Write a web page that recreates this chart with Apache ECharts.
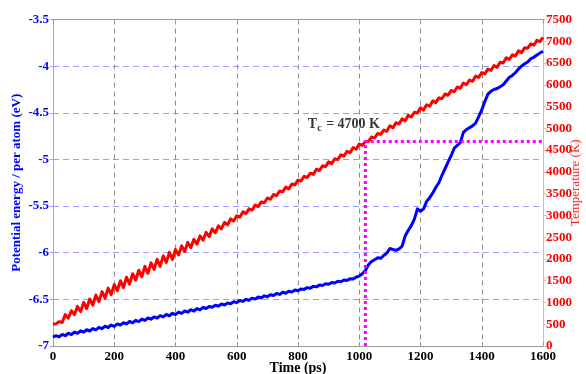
<!DOCTYPE html>
<html>
<head>
<meta charset="utf-8">
<script src="https://cdn.jsdelivr.net/npm/echarts@6/dist/echarts.min.js"></script>
<style>
  html, body { margin: 0; padding: 0; background: #ffffff; }
  #chart { width: 586px; height: 374px; }
</style>
</head>
<body>
<div id="chart"></div>
<script>
// Simulation time (ps)
var times = [
  0, 10, 20, 30, 40, 50, 60, 70, 80, 90,
  100, 110, 120, 130, 140, 150, 160, 170, 180, 190,
  200, 210, 220, 230, 240, 250, 260, 270, 280, 290,
  300, 310, 320, 330, 340, 350, 360, 370, 380, 390,
  400, 410, 420, 430, 440, 450, 460, 470, 480, 490,
  500, 510, 520, 530, 540, 550, 560, 570, 580, 590,
  600, 610, 620, 630, 640, 650, 660, 670, 680, 690,
  700, 710, 720, 730, 740, 750, 760, 770, 780, 790,
  800, 810, 820, 830, 840, 850, 860, 870, 880, 890,
  900, 910, 920, 930, 940, 950, 960, 970, 980, 990,
  1000, 1010, 1020, 1030, 1040, 1050, 1060, 1070, 1080, 1090,
  1100, 1110, 1120, 1130, 1140, 1150, 1160, 1170, 1180, 1190,
  1200, 1210, 1220, 1230, 1240, 1250, 1260, 1270, 1280, 1290,
  1300, 1310, 1320, 1330, 1340, 1350, 1360, 1370, 1380, 1390,
  1400, 1410, 1420, 1430, 1440, 1450, 1460, 1470, 1480, 1490,
  1500, 1510, 1520, 1530, 1540, 1550, 1560, 1570, 1580, 1590,
  1600
];

// Potential energy per atom (eV)
var energy = [
  -6.905, -6.889, -6.902, -6.876, -6.890, -6.863, -6.877, -6.851, -6.865, -6.838,
  -6.852, -6.826, -6.839, -6.813, -6.827, -6.800, -6.814, -6.788, -6.802, -6.775,
  -6.789, -6.763, -6.776, -6.750, -6.764, -6.737, -6.751, -6.725, -6.739, -6.712,
  -6.726, -6.700, -6.713, -6.687, -6.701, -6.675, -6.688, -6.662, -6.676, -6.649,
  -6.663, -6.637, -6.650, -6.624, -6.638, -6.611, -6.625, -6.599, -6.613, -6.586,
  -6.598, -6.576, -6.585, -6.563, -6.573, -6.550, -6.560, -6.538, -6.548, -6.525,
  -6.535, -6.513, -6.522, -6.500, -6.510, -6.487, -6.497, -6.475, -6.485, -6.462,
  -6.472, -6.450, -6.459, -6.437, -6.447, -6.424, -6.434, -6.412, -6.422, -6.399,
  -6.407, -6.388, -6.393, -6.374, -6.380, -6.361, -6.366, -6.347, -6.352, -6.333,
  -6.338, -6.320, -6.325, -6.306, -6.311, -6.292, -6.297, -6.279, -6.282, -6.262,
  -6.250, -6.225, -6.190, -6.130, -6.095, -6.075, -6.055, -6.060, -6.030, -6.005,
  -5.955, -5.965, -5.975, -5.960, -5.930, -5.820, -5.760, -5.710, -5.640, -5.530,
  -5.555, -5.530, -5.450, -5.410, -5.360, -5.300, -5.250, -5.170, -5.100, -5.030,
  -4.960, -4.880, -4.850, -4.820, -4.710, -4.680, -4.660, -4.640, -4.610, -4.540,
  -4.470, -4.380, -4.300, -4.270, -4.250, -4.240, -4.220, -4.200, -4.160, -4.120,
  -4.100, -4.070, -4.030, -4.000, -3.975, -3.955, -3.920, -3.905, -3.880, -3.860,
  -3.840
];

// Temperature (K)
var temperature = [
  500, 510, 560, 540, 720, 640, 810, 720, 910, 790,
  1000, 860, 1080, 940, 1170, 1020, 1250, 1100, 1330, 1180,
  1410, 1270, 1500, 1340, 1580, 1420, 1660, 1510, 1740, 1590,
  1830, 1670, 1910, 1760, 1990, 1830, 2070, 1920, 2150, 1990,
  2220, 2090, 2300, 2170, 2380, 2260, 2450, 2340, 2530, 2430,
  2610, 2510, 2690, 2600, 2760, 2690, 2840, 2780, 2920, 2870,
  2990, 2960, 3080, 3040, 3150, 3120, 3240, 3200, 3310, 3290,
  3400, 3370, 3480, 3450, 3560, 3540, 3650, 3610, 3720, 3700,
  3810, 3790, 3900, 3870, 3970, 3940, 4060, 4030, 4140, 4120,
  4230, 4190, 4300, 4280, 4390, 4360, 4470, 4440, 4560, 4520,
  4640, 4610, 4700, 4700, 4800, 4780, 4880, 4860, 4960, 4930,
  5060, 5010, 5130, 5100, 5220, 5170, 5300, 5260, 5370, 5350,
  5470, 5420, 5540, 5510, 5630, 5590, 5700, 5680, 5790, 5760,
  5870, 5840, 5950, 5920, 6040, 6000, 6110, 6080, 6200, 6170,
  6280, 6250, 6360, 6330, 6440, 6400, 6520, 6500, 6620, 6580,
  6690, 6660, 6780, 6740, 6850, 6840, 6940, 6910, 7020, 6990,
  7090
];

// Critical temperature marker
var tcTime = 1020;
var tcTemp = 4700;
var tcLabelAt = [950, 5080];

// Axis tick settings
var timeTicks = { min: 0, max: 1600, step: 200 };
var energyTicks = { min: -7, max: -3.5, step: 0.5 };
var tempTicks = { min: 0, max: 7500, step: 500 };

var serif = '"Liberation Serif", "DejaVu Serif", serif';

function pairs(xs, ys) {
  var out = [];
  for (var i = 0; i < xs.length; i++) out.push([xs[i], ys[i]]);
  return out;
}

function plain(v) { return String(v); }

var chart = echarts.init(document.getElementById('chart'), null, { renderer: 'canvas' });

var option = {
  animation: false,
  backgroundColor: '#ffffff',
  grid: { left: 53, right: 43, top: 19.5, bottom: 28, containLabel: false, outerBoundsMode: 'none' },
  xAxis: [
    {
      type: 'value',
      position: 'bottom',
      min: timeTicks.min, max: timeTicks.max, interval: timeTicks.step,
      name: 'Time (ps)',
      nameLocation: 'middle',
      nameGap: 15,
      nameMoveOverlap: false,
      nameTextStyle: { fontFamily: serif, fontWeight: 'bold', fontSize: 14, color: '#000000' },
      axisLine: { show: true, onZero: false, lineStyle: { color: '#999999', width: 1 } },
      axisTick: { show: true, inside: true, length: 4, lineStyle: { color: '#999999' } },
      axisLabel: { margin: 4, fontFamily: serif, fontWeight: 'bold', fontSize: 13, color: '#000000', formatter: plain },
      splitLine: { show: true, lineStyle: { color: '#8c8c8c', type: [5, 4], width: 1 } }
    },
    {
      type: 'value',
      position: 'top',
      min: timeTicks.min, max: timeTicks.max, interval: timeTicks.step,
      axisLine: { show: true, onZero: false, lineStyle: { color: '#999999', width: 1 } },
      axisTick: { show: true, inside: true, length: 4, lineStyle: { color: '#999999' } },
      axisLabel: { show: false },
      splitLine: { show: false }
    }
  ],
  yAxis: [
    {
      type: 'value',
      position: 'left',
      min: energyTicks.min, max: energyTicks.max, interval: energyTicks.step,
      name: 'Potential energy / per atom (eV)',
      nameLocation: 'middle',
      nameRotate: 90,
      nameGap: 30,
      nameMoveOverlap: false,
      nameTextStyle: { fontFamily: serif, fontWeight: 'bold', fontSize: 13, color: '#0000ff' },
      axisLine: { show: true, onZero: false, lineStyle: { color: '#9f9fff', width: 1 } },
      axisTick: { show: true, length: 3, lineStyle: { color: '#9f9fff' } },
      axisLabel: { margin: 4, fontFamily: serif, fontWeight: 'bold', fontSize: 13, color: '#0000ff', formatter: plain },
      splitLine: { show: true, lineStyle: { color: '#9a9aff', type: [6, 4], width: 1 } }
    },
    {
      type: 'value',
      position: 'right',
      min: tempTicks.min, max: tempTicks.max, interval: tempTicks.step,
      name: 'Temperature (K)',
      nameLocation: 'middle',
      nameRotate: 90,
      nameGap: 26,
      nameMoveOverlap: false,
      nameTextStyle: { fontFamily: serif, fontSize: 13, color: '#ff2020' },
      axisLine: { show: true, onZero: false, lineStyle: { color: '#ffaaaa', width: 1 } },
      axisTick: { show: true, length: 3, lineStyle: { color: '#ffaaaa' } },
      axisLabel: { margin: 3, fontFamily: serif, fontWeight: 'bold', fontSize: 13, color: '#ff0000', formatter: plain },
      splitLine: { show: false }
    }
  ],
  series: [
    {
      name: 'Temperature',
      type: 'line',
      xAxisIndex: 0,
      yAxisIndex: 1,
      data: pairs(times, temperature),
      showSymbol: false,
      symbol: 'none',
      lineStyle: { color: '#ff0000', width: 3, join: 'round' },
      z: 3
    },
    {
      name: 'Potential energy',
      type: 'line',
      xAxisIndex: 0,
      yAxisIndex: 0,
      data: pairs(times, energy),
      showSymbol: false,
      symbol: 'none',
      lineStyle: { color: '#0000ff', width: 3, join: 'round' },
      z: 4
    },
    {
      name: 'Tc guide',
      type: 'line',
      xAxisIndex: 0,
      yAxisIndex: 1,
      data: [[tcTime, tempTicks.min], [tcTime, tcTemp], [timeTicks.max, tcTemp]],
      showSymbol: false,
      symbol: 'none',
      lineStyle: { color: '#ff00ff', width: 3, type: [3, 3] },
      z: 5
    },
    {
      name: 'Tc label',
      type: 'scatter',
      xAxisIndex: 0,
      yAxisIndex: 1,
      data: [tcLabelAt],
      symbolSize: 0,
      silent: true,
      label: {
        show: true,
        position: 'inside',
        formatter: '{b|T}{s|c}{b| = ' + tcTemp + ' K}',
        rich: {
          b: { fontFamily: serif, fontWeight: 'bold', fontSize: 14, color: '#000000', lineHeight: 18, verticalAlign: 'middle' },
          s: { fontFamily: serif, fontWeight: 'bold', fontSize: 10, color: '#000000', lineHeight: 18, verticalAlign: 'bottom', padding: [6, 1, 0, 0] }
        }
      },
      z: 6
    }
  ]
};

chart.setOption(option);
</script>
</body>
</html>
